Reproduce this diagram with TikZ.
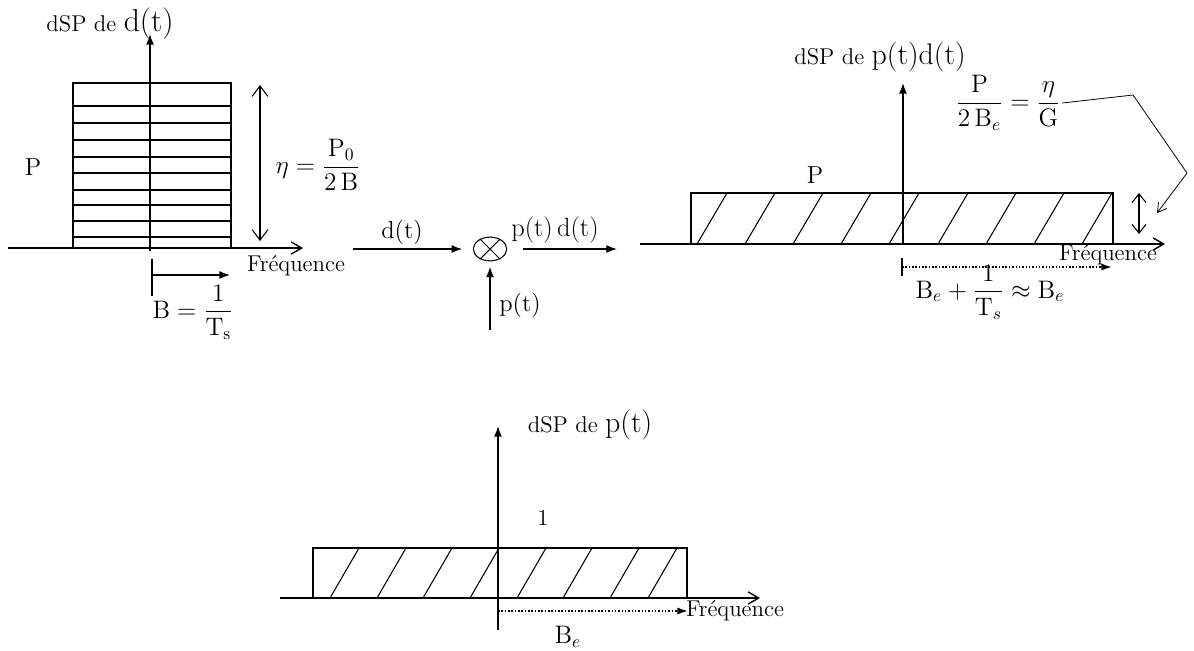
\documentclass[tikz,border=0pt]{standalone}
\usepackage{amsmath}
\usetikzlibrary{arrows.meta,shapes.geometric}
\begin{document}
\begin{tikzpicture}[x=0.02cm,y=-0.02cm,
  axis/.style={line width=0.8pt},
  thinl/.style={line width=0.6pt},
  openarr/.style={-{Straight Barb[length=6pt,width=7pt]}},
  dblarr/.style={{Straight Barb[length=6pt,width=9pt]}-{Straight Barb[length=6pt,width=9pt]}},
  smalldbl/.style={{Straight Barb[length=5pt,width=8pt]}-{Straight Barb[length=5pt,width=8pt]}},
  fillarr/.style={-{Latex[length=6pt,width=4.5pt]}},
  dotarr/.style={densely dotted,line width=0.9pt,-{Latex[length=6pt,width=4pt]}},
  txt/.style={inner sep=1pt,font=\fontsize{13}{15}\selectfont},
  big/.style={inner sep=1pt,font=\fontsize{14}{17}\selectfont},
]
\useasboundingbox (0,0) rectangle (1194,650);

% ---------- left: dSP de d(t)
\node[txt,anchor=base] (tL) at (110,31) {dSP de {\fontsize{18}{20}\selectfont d(t)}};
\coordinate (Lo) at (150,251);
\coordinate (Ltop) at (150,34);
\draw[axis,fillarr] (Lo) -- (Ltop);
\coordinate (Lxa) at (8,248);
\coordinate (Lxb) at (303,248);
\draw[axis,openarr] (Lxa) -- (Lxb);
\draw[axis] (73,248) rectangle (231,83);
\foreach \y in {106,123,140,157,173,190,205,221,237} \draw[thinl] (73,\y) -- (231,\y);
\node[big] (PL) at (33,167) {P};
\coordinate (eta1) at (260,85);
\coordinate (eta2) at (260,241);
\draw[thinl,dblarr] (eta1) -- (eta2);
\node[big] (etaL) at (318,165) {$\eta = \dfrac{\mathrm{P}_0}{2\,\mathrm{B}}$};
\node[txt,anchor=base west] (fL) at (245,271) {Fréquence};
\coordinate (b0) at (152,259);
\coordinate (b1) at (152,296);
\draw[thinl] (b0) -- (b1);
\coordinate (bs) at (152,275);
\coordinate (be) at (230,275);
\draw[axis,fillarr] (bs) -- (be);
\node[big] (BL) at (193,312) {$\mathrm{B} = \dfrac{1}{\mathrm{T_s}}$};

% ---------- middle: multiplier
\node[draw,ellipse,thinl,minimum width=19pt,minimum height=13.5pt,inner sep=0pt] (mul) at (490,249) {};
\draw[thinl] (mul.135) -- (mul.-45) (mul.45) -- (mul.-135);
\coordinate (din) at (353,249);
\draw[axis,fillarr,shorten >=6pt] (din) -- (mul.west);
\node[big] (dlab) at (402,232) {d(t)};
\coordinate (pin) at (490,330);
\draw[axis,fillarr,shorten >=3pt] (pin) -- (mul.south);
\node[big] (plab) at (520,305) {p(t)};
\coordinate (pout) at (617,249);
\draw[axis,fillarr,shorten <=9pt] (mul.east) -- (pout);
\node[inner sep=1pt,font=\fontsize{15}{17}\selectfont] (pdlab) at (555,230) {p(t)\,d(t)};

% ---------- right: dSP de p(t)d(t)
\node[txt,anchor=base] (tR) at (880,64) {dSP de {\fontsize{17}{20}\selectfont p(t)d(t)}};
\coordinate (Ro) at (903,244);
\coordinate (Rtop) at (903,83);
\draw[axis,fillarr] (Ro) -- (Rtop);
\coordinate (Rxa) at (640,244);
\coordinate (Rxb) at (1165,244);
\draw[axis,openarr] (Rxa) -- (Rxb);
\draw[axis] (691,244) rectangle (1113,193);
\foreach \b in {697,745,793,841,889,938,986,1034,1082} \draw[thinl] (\b,244) -- (\b+30,193);
\node[big] (PR) at (815,175) {P};
\node[big] (fracR) at (1008,103) {$\dfrac{\mathrm{P}}{2\,\mathrm{B}_e} = \dfrac{\eta}{\mathrm{G}}$};
\coordinate (c1) at (1133,95);
\coordinate (c2) at (1187,173);
\coordinate (c3) at (1157,213);
\draw[line width=0.45pt,-{Straight Barb[length=5pt,width=6pt]}] (fracR.east) -- (c1) -- (c2) -- (c3);
\coordinate (h1) at (1139,193);
\coordinate (h2) at (1139,234);
\draw[thinl,smalldbl] (h1) -- (h2);
\node[txt,anchor=base west] (fR) at (1057,260) {Fréquence};
\coordinate (t0) at (902,258);
\coordinate (t1) at (902,276);
\draw[thinl] (t0) -- (t1);
\coordinate (da) at (902,267);
\coordinate (db) at (1112,267);
\draw[dotarr] (da) -- (db);
\node[big] (BR) at (990,292) {$\mathrm{B}_e + \dfrac{1}{\mathrm{T}_s} \approx \mathrm{B}_e$};

% ---------- bottom: dSP de p(t)
\node[txt,anchor=base] (tB) at (590,432) {dSP de {\fontsize{17}{20}\selectfont p(t)}};
\coordinate (Bo) at (498,630);
\coordinate (Btop) at (498,426);
\draw[axis,fillarr] (Bo) -- (Btop);
\coordinate (Bxa) at (280,598);
\coordinate (Bxb) at (760,598);
\draw[axis,openarr] (Bxa) -- (Bxb);
\draw[axis] (313,598) rectangle (687,548);
\foreach \b in {330,377,423,470,517,563,610,648} \draw[thinl] (\b,598) -- (\b+29,548);
\node[txt] (one) at (543,518) {1};
\coordinate (ea) at (498,611);
\coordinate (eb) at (688,611);
\draw[dotarr] (ea) -- (eb);
\node[txt,anchor=base west] (fB) at (684,616) {Fréquence};
\node[big] (Be) at (568,637) {$\mathrm{B}_e$};
\end{tikzpicture}
\end{document}
